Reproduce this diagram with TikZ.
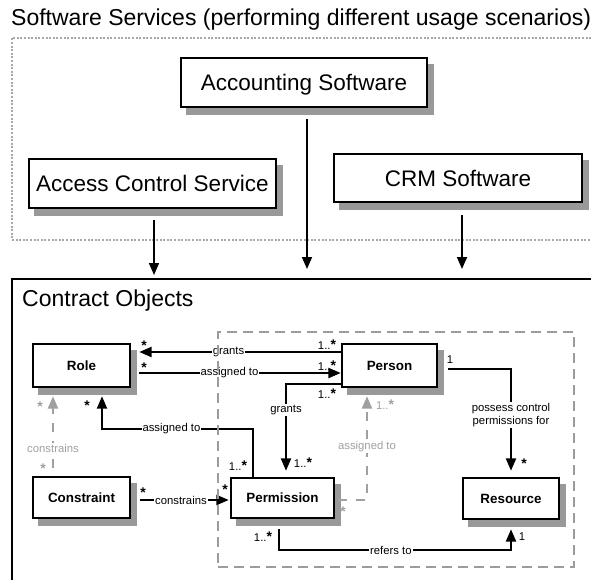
\documentclass[tikz,border=0pt]{standalone}
\usepackage{fontspec}
\setmainfont{Liberation Sans}
\usetikzlibrary{arrows.meta,shadows,calc}

\definecolor{shade}{HTML}{999999}
\definecolor{softgray}{HTML}{A0A0A0}
\definecolor{dotgray}{HTML}{A8A8A8}
\definecolor{dashgray}{HTML}{9C9C9C}

\newcommand\bigtext{\fontsize{22.5}{26}\selectfont}
\newcommand\titletext{\fontsize{23}{27}\selectfont}
\newcommand\classtext{\fontsize{13.4}{16}\selectfont\bfseries}
\newcommand\lbltext{\fontsize{11.3}{13.5}\selectfont}
\newcommand\mstar{{\fontsize{14}{14}\selectfont\bfseries *}}

\tikzset{
  svc/.style={draw, line width=2.2pt, fill=white, inner sep=0pt,
    font=\bigtext, text height=16pt, text depth=0pt,
    drop shadow={shadow xshift=6pt, shadow yshift=-7pt, fill=shade,
      draw=shade, line width=2.2pt, opacity=1}},
  cls/.style={draw, line width=2.4pt, fill=white, inner sep=0pt,
    font=\classtext, text height=9.6pt, text depth=0pt,
    drop shadow={shadow xshift=6pt, shadow yshift=-7pt, fill=shade,
      draw=shade, line width=2.4pt, opacity=1}},
  feed/.style={line width=1.7pt, -{Triangle[length=12pt,width=10pt]}},
  assoc/.style={line width=2.3pt, -{Triangle[length=12.5pt,width=10pt]}},
  weak/.style={assoc, draw=softgray, dash pattern=on 9pt off 9pt},
  lbl/.style={fill=white, inner sep=1pt, font=\lbltext},
  weaklbl/.style={lbl, text=softgray},
  mult/.style={inner sep=0pt, font=\lbltext},
  weakmult/.style={mult, text=softgray},
}

\begin{document}
\begin{tikzpicture}[x=1pt, y=-1pt]
\useasboundingbox (0,0) rectangle (591,580);
\clip (0,0) rectangle (591,580);

% section frames
\node[draw=dotgray, line width=2pt, dash pattern=on 2pt off 1.6pt,
  minimum width=608pt, minimum height=202pt, inner sep=0pt] (services) at (316,139) {};
\node[draw, line width=2pt, minimum width=608pt, minimum height=341pt,
  inner sep=0pt] (contract) at (316,449.5) {};
\node[anchor=base west, inner sep=0pt, font=\titletext] (servicesTitle) at (11,26)
  {Software Services (performing different usage scenarios)};
\node[anchor=base west, inner sep=0pt, font=\titletext] (contractTitle) at (22,306.5)
  {Contract Objects};

% software services
\node[svc, minimum width=246pt, minimum height=49pt] (acc) at (304,82.5) {Accounting Software};
\node[svc, minimum width=247pt, minimum height=49pt] (acs) at (152.5,183.5) {Access Control Service};
\node[svc, minimum width=248pt, minimum height=48pt] (crm) at (458,178) {CRM Software};

\coordinate (inAcs) at (154,275);
\coordinate (inAcc) at (307,269);
\coordinate (inCrm) at (462,269);
\draw[feed] ($(acs.south)+(1.5,11)$) -- (inAcs);
\draw[feed] ($(acc.south)+(3,11)$) -- (inAcc);
\draw[feed] ($(crm.south)+(4,12)$) -- (inCrm);

% contract object classes
\node[cls, minimum width=97pt, minimum height=43pt] (role) at (81.5,365.5) {Role};
\node[cls, minimum width=95pt, minimum height=43pt] (person) at (389.5,365.5) {Person};
\node[cls, minimum width=97pt, minimum height=41pt] (constraint) at (81.5,497.5) {Constraint};
\node[cls, minimum width=103pt, minimum height=40pt] (permission) at (282.5,498) {Permission};
\node[cls, minimum width=96pt, minimum height=41pt] (resource) at (511,498.5) {Resource};

% associations
\draw[assoc] ($(person.west)+(0,-13.5)$) -- node[lbl, pos=0.557] (l1) {grants}
  ($(role.east)+(8,-13.5)$);
\draw[assoc] ($(role.east)+(8,7.5)$) -- node[lbl, pos=0.448] (l2) {assigned to}
  ($(person.west)+(0,7.5)$);
\draw[assoc] ($(person.west)+(0,18.5)$) -| node[lbl, pos=0.65] (l3) {grants}
  ($(permission.north)+(3.5,-6)$);
\draw[assoc] ($(permission.north)+(-29.5,0)$) |- node[lbl, pos=0.77] (l4) {assigned to}
  ($(role.south)+(20.5,40.5)$) -- ($(role.south)+(20.5,8)$);
\draw[weak] ($(constraint.north)+(-28.5,-8)$) -- node[weaklbl, pos=0.27] (l5) {constrains}
  ($(role.south)+(-28.5,8)$);
\draw[assoc] ($(constraint.east)+(9,2.5)$) -- node[lbl, pos=0.46] (l6) {constrains}
  ($(permission.west)+(-1,2)$);
\draw[weak] ($(permission.east)+(3,2)$) -| node[weaklbl, pos=0.757] (l7) {assigned to}
  ($(person.south)+(-22.5,8)$);
\draw[assoc] ($(person.east)+(10,3.5)$) -| node[lbl, pos=0.727, align=center] (l8)
  {possess control\\permissions for} ($(resource.north)+(0,-6)$);
\draw[assoc] ($(permission.south)+(-3.5,10)$) -- ($(permission.south)+(-3.5,31)$)
  -| node[lbl, pos=0.241] (l9) {refers to} ($(resource.south)+(0,9)$);

% dashed boundary drawn over the associations
\node[draw=dashgray, line width=1.2pt, dash pattern=on 10pt off 6pt,
  minimum width=356pt, minimum height=235pt, inner sep=0pt] (core) at (396,449.5) {};

% multiplicities
\node[mult] (m1) at (144,346) {\mstar};
\node[mult] (m2) at (327,345) {1..\mstar};
\node[mult] (m3) at (144,368) {\mstar};
\node[mult] (m4) at (327,366) {1..\mstar};
\node[mult] (m5) at (327,394) {1..\mstar};
\node[mult] (m6) at (303,463) {1..\mstar};
\node[mult] (m7) at (87,406) {\mstar};
\node[mult] (m8) at (238,466) {1..\mstar};
\node[weakmult] (m9) at (40,407) {\mstar};
\node[weakmult] (m10) at (43,469) {\mstar};
\node[mult] (m11) at (143,493) {\mstar};
\node[mult] (m12) at (225,490) {\mstar};
\node[weakmult] (m13) at (385,405) {1..\mstar};
\node[weakmult] (m14) at (343,512) {\mstar};
\node[mult] (m15) at (450,360) {1};
\node[mult] (m16) at (524,464) {\mstar};
\node[mult] (m17) at (263,537) {1..\mstar};
\node[mult] (m18) at (522,537) {1};
\end{tikzpicture}
\end{document}
